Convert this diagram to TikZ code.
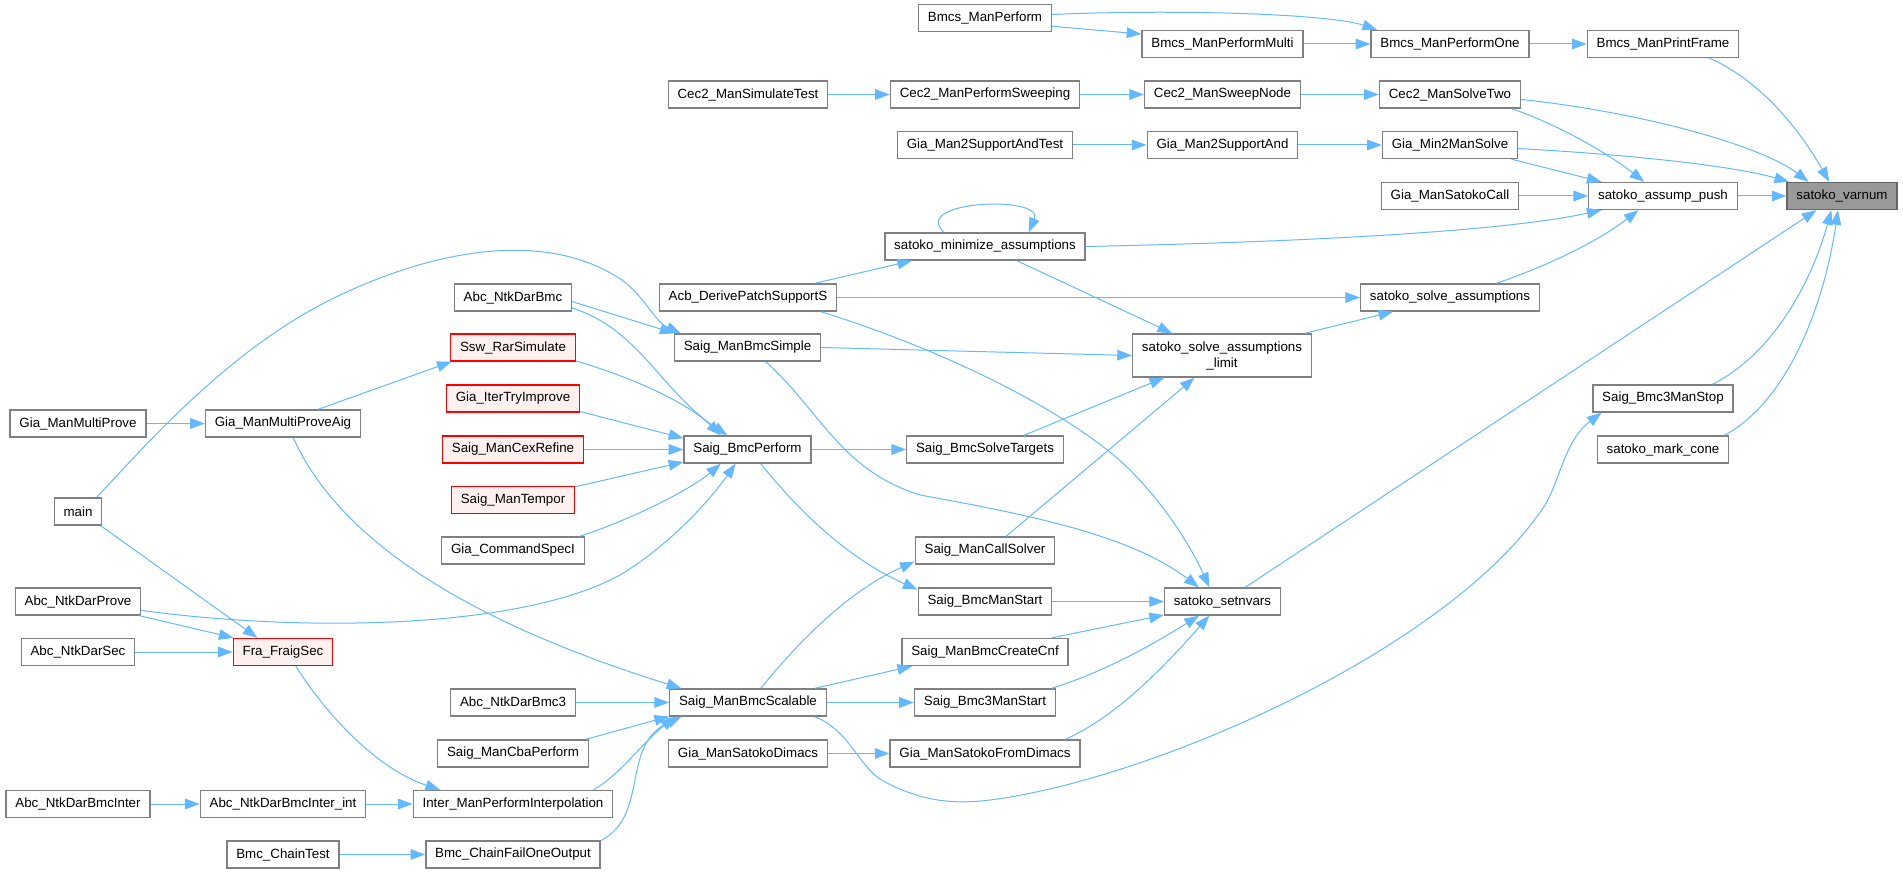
\documentclass[tikz,border=0pt]{standalone}
\usepackage{fontspec}
\setmainfont{Liberation Sans}
\usepackage{xcolor}
\usetikzlibrary{arrows.meta}

\definecolor{callblue}{HTML}{63B8FF}
\definecolor{nodegray}{HTML}{808080}
\definecolor{truncfill}{HTML}{FFF0F0}
\definecolor{rootfill}{HTML}{999999}
\definecolor{rootborder}{HTML}{666666}

\begin{document}
\begin{tikzpicture}[
    x=0.75pt, y=-0.75pt,
    every node/.style={font=\fontsize{10}{12}\selectfont},
    func/.style={draw=nodegray, fill=white, line width=1pt, inner xsep=7pt,
                 inner ysep=2pt, minimum height=20.25pt},
    trunc/.style={func, draw=red, fill=truncfill},
    root/.style={func, draw=rootborder, fill=rootfill},
    arrow/.style={-{Triangle[length=11pt, width=8pt]}, draw=callblue, line width=0.75pt},
]
\path[use as bounding box] (0,0) rectangle (1903,873);

% nodes, column by column of the caller graph
\node[func] (gmp) at (78,423.5) {Gia\_ManMultiProve};
\node[func] (main) at (78,511.5) {main};
\node[func] (andp) at (78,601.5) {Abc\_NtkDarProve};
\node[func] (ands) at (78,652) {Abc\_NtkDarSec};
\node[func] (andbi) at (78,804) {Abc\_NtkDarBmcInter};

\node[func] (gmpa) at (283,423.5) {Gia\_ManMultiProveAig};
\node[trunc] (ffs) at (283,652) {Fra\_FraigSec};
\node[func] (andbii) at (283,804) {Abc\_NtkDarBmcInter\_int};
\node[func] (bct) at (283,854.5) {Bmc\_ChainTest};

\node[func] (andb) at (513,297.5) {Abc\_NtkDarBmc};
\node[trunc] (ssw) at (513,347.5) {Ssw\_RarSimulate};
\node[trunc] (gitr) at (513,398.5) {Gia\_IterTryImprove};
\node[trunc] (scr) at (513,449.5) {Saig\_ManCexRefine};
\node[trunc] (stp) at (513,500) {Saig\_ManTempor};
\node[func] (gcs) at (513,550.5) {Gia\_CommandSpecI};
\node[func] (andb3) at (513,702.5) {Abc\_NtkDarBmc3};
\node[func] (scba) at (513,753.5) {Saig\_ManCbaPerform};
\node[func] (impi) at (513,804) {Inter\_ManPerformInterpolation};
\node[func] (bcfo) at (513,854.5) {Bmc\_ChainFailOneOutput};

\node[func] (cst) at (748,94.5) {Cec2\_ManSimulateTest};
\node[func] (acb) at (748,297.5) {Acb\_DerivePatchSupportS};
\node[func] (sbs) at (747.5,347.5) {Saig\_ManBmcSimple};
\node[func] (sbp) at (747.5,449.5) {Saig\_BmcPerform};
\node[func] (smbsc) at (748,702.5) {Saig\_ManBmcScalable};
\node[func] (gsd) at (748,753.5) {Gia\_ManSatokoDimacs};

\node[func] (bmp) at (985,18) {Bmcs\_ManPerform};
\node[func] (cps) at (985,94.5) {Cec2\_ManPerformSweeping};
\node[func] (g2sat) at (985,145) {Gia\_Man2SupportAndTest};
\node[func] (sma) at (985,246.5) {satoko\_minimize\_assumptions};
\node[func] (sbst) at (985,449.5) {Saig\_BmcSolveTargets};
\node[func] (scs) at (985,550.5) {Saig\_ManCallSolver};
\node[func] (sbms) at (985,601.5) {Saig\_BmcManStart};
\node[func] (scnf) at (985,652) {Saig\_ManBmcCreateCnf};
\node[func] (sb3st) at (985,702.5) {Saig\_Bmc3ManStart};
\node[func] (gsfd) at (985,753.5) {Gia\_ManSatokoFromDimacs};

\node[func] (bmpm) at (1222.5,44) {Bmcs\_ManPerformMulti};
\node[func] (csn) at (1222.5,94.5) {Cec2\_ManSweepNode};
\node[func] (g2sa) at (1222.5,145) {Gia\_Man2SupportAnd};
\node[func, align=center, minimum height=32.25pt] (ssal) at (1222,355.5)
    {satoko\_solve\_assumptions\\\_limit};
\node[func] (ssnv) at (1222.5,601.5) {satoko\_setnvars};

\node[func] (bmpo) at (1450,44) {Bmcs\_ManPerformOne};
\node[func] (cstw) at (1450,94.5) {Cec2\_ManSolveTwo};
\node[func] (gm2s) at (1450,145) {Gia\_Min2ManSolve};
\node[func] (gsc) at (1450,196) {Gia\_ManSatokoCall};
\node[func] (ssa) at (1450,297.5) {satoko\_solve\_assumptions};

\node[func] (bmpf) at (1663,44) {Bmcs\_ManPrintFrame};
\node[func] (sap) at (1663,196) {satoko\_assump\_push};
\node[func] (sb3s) at (1663,398.5) {Saig\_Bmc3ManStop};
\node[func] (smc) at (1663,449.5) {satoko\_mark\_cone};

\node[root] (svn) at (1842,196) {satoko\_varnum};

% straight calls
\draw[arrow] (bmp.-7) -- (bmpm.173);
\draw[arrow] (bmpm) -- (bmpo);
\draw[arrow] (bmpo) -- (bmpf);
\draw[arrow] (cst) -- (cps);
\draw[arrow] (cps) -- (csn);
\draw[arrow] (csn) -- (cstw);
\draw[arrow] (g2sat) -- (g2sa);
\draw[arrow] (g2sa) -- (gm2s);
\draw[arrow] (gsc) -- (sap);
\draw[arrow] (sap) -- (svn);
\draw[arrow] (acb) -- (ssa);
\draw[arrow] (sbs.east) -- (ssal.west);
\draw[arrow] (gmp) -- (gmpa);
\draw[arrow] (scr) -- (sbp);
\draw[arrow] (sbp) -- (sbst);
\draw[arrow] (sbms) -- (ssnv);
\draw[arrow] (ands) -- (ffs);
\draw[arrow] (andb3) -- (smbsc);
\draw[arrow] (smbsc) -- (sb3st);
\draw[arrow] (gsd) -- (gsfd);
\draw[arrow] (andbi) -- (andbii);
\draw[arrow] (andbii) -- (impi);
\draw[arrow] (bct) -- (bcfo);
\draw[arrow] (ssnv.32) -- (svn.-151);
\draw[arrow] (gm2s.-13) -- (sap.167);
\draw[arrow] (ssal.15) -- (ssa.-166);
\draw[arrow] (acb.12) -- (sma.-169);
\draw[arrow] (sma.-24) -- (ssal.156);
\draw[arrow] (sbst.20) -- (ssal.-159);
\draw[arrow] (scs.34) -- (ssal.-141);
\draw[arrow] (andb.-4) -- (sbs.169);
\draw[arrow] (gitr.-11) -- (sbp.170);
\draw[arrow] (stp.12) -- (sbp.-169);
\draw[arrow] (gmpa.22) -- (ssw.-167);
\draw[arrow] (main.-32) -- (ffs.151);
\draw[arrow] (andp.-13) -- (ffs.164);
\draw[arrow] (scba.11) -- (smbsc.-170);
\draw[arrow] (smbsc.12) -- (scnf.-169);
\draw[arrow] (scnf.12) -- (ssnv.-167);

% curved calls
\draw[arrow] (bmp.3) .. controls (1180,9) and (1330,14) .. (bmpo.169);
\draw[arrow] (bmpf.-17) .. controls (1760,80) and (1800,130) .. (svn.132);
\draw[arrow] (cstw.-4) .. controls (1640,112) and (1760,145) .. (svn.157);
\draw[arrow] (gm2s.-3) .. controls (1620,154) and (1730,165) .. (svn.165);
\draw[arrow] (sb3s.16) .. controls (1780,350) and (1815,270) .. (svn.-127);
\draw[arrow] (smc.13) .. controls (1790,400) and (1825,300) .. (svn.-106);
\draw[arrow] (cstw.-13) .. controls (1560,125) and (1610,155) .. (sap.143);
\draw[arrow] (sma.east) .. controls (1300,242) and (1500,232) .. (sap.-167);
\draw[arrow] (ssa.17) .. controls (1550,265) and (1600,240) .. (sap.-150);
\draw[arrow] (sma.161) .. controls (910,200) and (1045,195) .. (sma.18);
\draw[arrow] (main.37) .. controls (150,440) and (230,350) .. (330,300)
    .. controls (420,255) and (540,225) .. (622,280)
    .. controls (645,297) and (655,322) .. (sbs.168);
\draw[arrow] (andb.-10) .. controls (640,330) and (660,390) .. (sbp.145);
\draw[arrow] (ssw.-12) .. controls (640,380) and (690,405) .. (sbp.152);
\draw[arrow] (gcs.12) .. controls (630,520) and (690,490) .. (sbp.-152);
\draw[arrow] (andp.-8) .. controls (300,632) and (520,630) .. (620,575)
    .. controls (670,545) and (710,500) .. (sbp.-130);
\draw[arrow] (gmpa.-54) .. controls (330,520) and (430,610) .. (smbsc.168);
\draw[arrow] (impi.10) .. controls (620,775) and (640,745) .. (smbsc.-169);
\draw[arrow] (bcfo.9) .. controls (650,815) and (620,745) .. (smbsc.-168);
\draw[arrow] (ffs.-48) .. controls (330,720) and (380,770) .. (impi.169);
\draw[arrow] (sbp.-47) .. controls (790,500) and (840,555) .. (sbms.170);
\draw[arrow] (smbsc.48) .. controls (800,640) and (850,590) .. (scs.-171);
\draw[arrow] (sb3st.12) .. controls (1110,670) and (1160,640) .. (ssnv.-149);
\draw[arrow] (gsfd.10) .. controls (1120,715) and (1170,660) .. (ssnv.-133);
\draw[arrow] (sbs.-38) .. controls (820,410) and (840,470) .. (920,495)
    .. controls (1030,515) and (1130,535) .. (ssnv.149);
\draw[arrow] (acb.-11) .. controls (960,355) and (1080,420) .. (1130,470)
    .. controls (1170,510) and (1195,555) .. (ssnv.133);
\draw[arrow] (smbsc.-12) .. controls (850,730) and (860,770) .. (885,782)
    .. controls (920,800) and (950,805) .. (990,800)
    .. controls (1150,780) and (1450,650) .. (1545,505)
    .. controls (1560,480) and (1565,440) .. (sb3s.-167);
\end{tikzpicture}
\end{document}
